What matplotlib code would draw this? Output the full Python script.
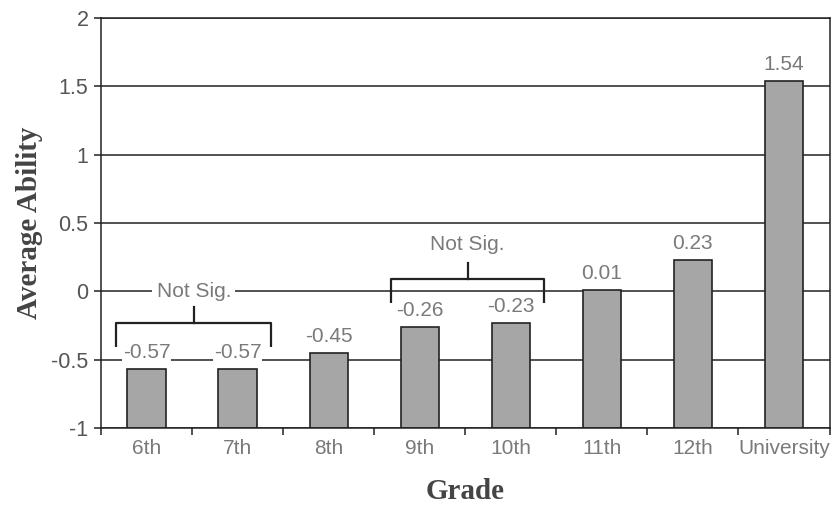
import matplotlib
matplotlib.use("Agg")
import matplotlib.pyplot as plt
import numpy as np

grades = ["6th", "7th", "8th", "9th", "10th", "11th", "12th", "University"]
ability = [-0.57, -0.57, -0.45, -0.26, -0.23, 0.01, 0.23, 1.54]
value_labels = ["-0.57", "-0.57", "-0.45", "-0.26", "-0.23", "0.01", "0.23", "1.54"]
y_ticks = [-1, -0.5, 0, 0.5, 1, 1.5, 2]
y_tick_labels = ["-1", "-0.5", "0", "0.5", "1", "1.5", "2"]

# not significant groups: (first bar, last bar)
not_sig = [(0, 1), (3, 4)]

sans = "Liberation Sans"
serif = "Liberation Serif"
txt_grey = "#7a7a7a"
line_col = "#222222"

fig = plt.figure(figsize=(8.32, 5.08), dpi=100)
ax = fig.add_axes([0.1214, 0.1575, 0.8756, 0.8071])

x = np.arange(len(grades))
ax.set_xlim(-0.5, len(grades) - 0.5)
ax.set_ylim(-1, 2)

for yt in y_ticks:
    ax.axhline(yt, color=line_col, lw=1.1, zorder=1)

ax.bar(x, [v - (-1) for v in ability], bottom=-1, width=0.42,
       color="#a6a6a6", edgecolor=line_col, linewidth=1.2, zorder=2)

for xi, v, lab in zip(x, ability, value_labels):
    ax.annotate(lab, (xi, v), xytext=(0, 5), textcoords="offset points",
                ha="center", va="bottom", fontsize=15, family=sans, color=txt_grey,
                bbox=dict(facecolor="white", edgecolor="none", pad=0.5), zorder=3)

# brackets
br = [
    dict(x0=-0.33, x1=1.37, yb=-0.41, yh=-0.234, ys=-0.117, yt=0.0),
    dict(x0=2.68, x1=4.37, yb=-0.088, yh=0.088, ys=0.205, yt=0.344),
]
for b in br:
    xm = (b["x0"] + b["x1"]) / 2
    ax.plot([b["x0"], b["x0"], b["x1"], b["x1"]], [b["yb"], b["yh"], b["yh"], b["yb"]],
            color=line_col, lw=1.6, zorder=4, solid_capstyle="butt")
    ax.plot([xm, xm], [b["yh"], b["ys"]], color=line_col, lw=1.6, zorder=4)
    ax.text(xm, b["yt"], "Not Sig.", ha="center", va="center", fontsize=15,
            family=sans, color=txt_grey,
            bbox=dict(facecolor="white", edgecolor="none", pad=3), zorder=3)

ax.set_yticks(y_ticks)
ax.set_yticklabels(y_tick_labels, family=sans, fontsize=15.5, color="#555555")
ax.tick_params(axis="y", direction="out", length=5, width=1.1, color=line_col, pad=4)

ax.set_xticks(x)
ax.set_xticklabels(grades, family=sans, fontsize=15, color=txt_grey)
ax.set_xticks(np.arange(-0.5, len(grades)), minor=True)
ax.tick_params(axis="x", which="major", length=0, pad=8)
ax.tick_params(axis="x", which="minor", direction="out", length=5, width=1.1, color=line_col)

for s in ax.spines.values():
    s.set_color(line_col)
    s.set_linewidth(1.1)

ax.set_xlabel("Grade", family=serif, fontweight="bold", fontsize=21, color="#444444", labelpad=14)
ax.set_ylabel("Average Ability", family=serif, fontweight="bold", fontsize=21, color="#444444", labelpad=6)

fig.savefig("out.png", dpi=100)
